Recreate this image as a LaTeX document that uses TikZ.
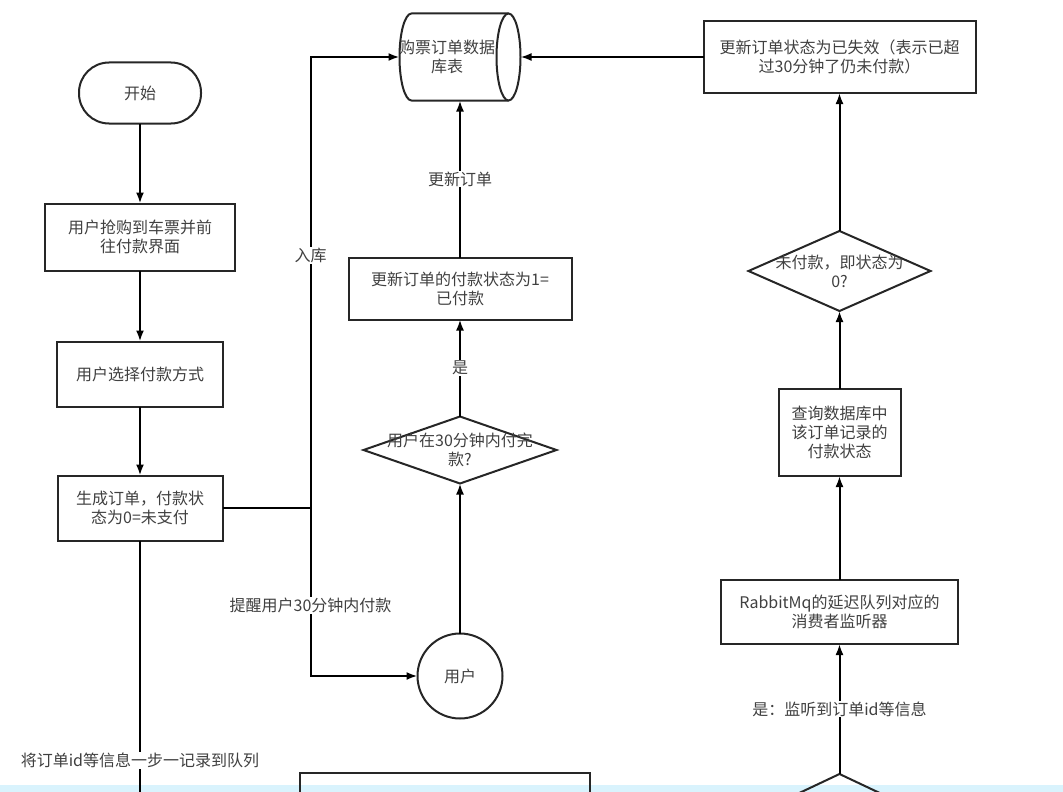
\documentclass[tikz,border=0pt]{standalone}
\usepackage{fontspec}
\setmainfont{Noto Sans CJK SC}
\usepackage{tikz}
\usetikzlibrary{positioning, arrows.meta, shapes.geometric}

\begin{document}
\begin{tikzpicture}[
        x=1pt, y=1pt,
        >={Latex[length=11pt, width=8pt]},
        line width=2pt,
        every node/.style={font=\fontsize{16}{19}\selectfont, text=black!75, outer sep=0pt},
        procbox/.style={draw=black!85, rectangle, align=center, inner sep=0pt},
        terminal/.style={draw=black!85, rectangle, rounded corners=30pt, minimum width=122pt, minimum height=61pt},
        decide/.style={draw=black!85, diamond, inner sep=0pt},
        dbase/.style={rectangle, minimum width=121pt, minimum height=87pt, inner sep=0pt},
        person/.style={draw=black!85, circle, minimum size=85pt, inner sep=0pt},
        edgelabel/.style={fill=white, inner sep=1pt}
    ]
        \useasboundingbox (0,0) rectangle (1063,-792);
        \clip (0,0) rectangle (1063,-792);
        \fill[cyan!15] (0,-785) rectangle (1063,-792);

        % left column
        \node[terminal] (start) at (140,-93) {开始};
        \node[procbox, minimum width=190pt, minimum height=67pt, below=80pt of start] (grab) {用户抢购到车票并前\\往付款界面};
        \node[procbox, minimum width=166pt, minimum height=65pt, below=71pt of grab] (paymode) {用户选择付款方式};
        \node[procbox, minimum width=165pt, minimum height=65pt, below=69pt of paymode] (order) {生成订单，付款状\\态为0=未支付};
        \coordinate[right=88pt of order.east] (fork);
        \coordinate[below=300pt of order.south] (offpage);

        % middle column
        \node[dbase, label={[align=center, xshift=-13pt]center:购票订单数据\\库表}] (db) at (460,-57) {};
        \draw[black!85] ([xshift=-12pt]db.north east) -- ([xshift=12pt]db.north west)
            arc[start angle=90, end angle=270, x radius=12pt, y radius=43.5pt]
            -- ([xshift=-12pt]db.south east);
        \draw[black!85] ([xshift=-12pt]db.east) ellipse [x radius=12pt, y radius=43.5pt];
        \node[procbox, minimum width=223pt, minimum height=62pt, below=157pt of db] (paid) {更新订单的付款状态为1=\\已付款};
        \node[decide, minimum width=193pt, minimum height=67pt, below=97pt of paid,
            label={[align=center]center:用户在30分钟内付完\\款?}] (payok) {};
        \node[person, below=150pt of payok] (user) {用户};
        \node[procbox, minimum width=290pt, minimum height=70pt, anchor=north] (enqueue) at (445,-773) {};

        % right column
        \node[procbox, minimum width=272pt, minimum height=72pt, right=183pt of db] (expire) {更新订单状态为已失效（表示已超\\过30分钟了仍未付款）};
        \node[decide, minimum width=182pt, minimum height=80pt, below=138pt of expire,
            label={[align=center]center:未付款，即状态为\\0?}] (unpaid) {};
        \node[procbox, minimum width=122pt, minimum height=87pt, below=78pt of unpaid] (query) {查询数据库中\\该订单记录的\\付款状态};
        \node[procbox, minimum width=237pt, minimum height=64pt, below=104pt of query] (rabbit) {RabbitMq的延迟队列对应的\\消费者监听器};
        \node[decide, minimum width=182pt, minimum height=86pt, below=130pt of rabbit] (listen) {};

        \draw[->] (start) -- (grab);
        \draw[->] (grab) -- (paymode);
        \draw[->] (paymode) -- (order);
        \draw (order.east) -- (fork);
        \draw[->] (fork) |- node[edgelabel, pos=0.28] {入库} (db.west);
        \draw[->] (fork) |- node[edgelabel, pos=0.29] {提醒用户30分钟内付款} (user.west);
        \draw (order.south) -- node[edgelabel, pos=0.733] {将订单id等信息一步一记录到队列} (offpage);
        \draw[->] (paid.north) -- node[edgelabel] {更新订单} (paid.north |- db.south);
        \draw[->] (payok.north) -- node[edgelabel] {是} (paid.south);
        \draw[->] (user.north) -- (payok.south);
        \draw[->] (expire.west) -- (expire.west -| db.east);
        \draw[->] (unpaid.north) -- (expire.south);
        \draw[->] (query.north) -- (unpaid.south);
        \draw[->] (rabbit.north) -- (query.south);
        \draw[->] (listen.north) -- node[edgelabel] {是：监听到订单id等信息} (rabbit.south);
    \end{tikzpicture}
\end{document}
